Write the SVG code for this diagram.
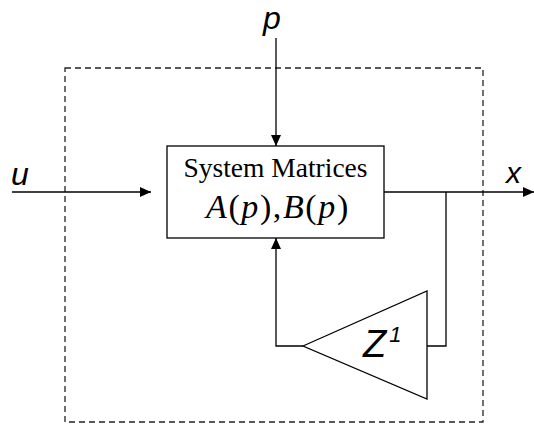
<svg xmlns="http://www.w3.org/2000/svg" width="534" height="427" viewBox="0 0 534 427">
<defs>
<marker id="ah" markerWidth="11" markerHeight="10" refX="11" refY="5" orient="auto" markerUnits="userSpaceOnUse">
<path d="M0,0 L11,5 L0,10 Z" fill="#000"/>
</marker>
<style>
.ln{fill:none;stroke:#000;stroke-width:1.3}
.lbl{font-family:"Liberation Sans",Arial,sans-serif;font-style:italic;fill:#000}
.ser{font-family:"Liberation Serif","Times New Roman",serif;fill:#000}
.it{font-style:italic}
</style>
</defs>
<rect width="534" height="427" fill="#fff"/>
<g id="boundary">
<rect x="65" y="68" width="418" height="354" fill="none" stroke="#222" stroke-width="1.3" stroke-dasharray="6,4"/>
</g>
<g id="connectors">
<line class="ln" x1="276" y1="38" x2="276" y2="146" marker-end="url(#ah)"/>
<line class="ln" x1="12" y1="192" x2="151" y2="192" marker-end="url(#ah)"/>
<line class="ln" x1="384" y1="192" x2="534" y2="192" marker-end="url(#ah)"/>
<polyline class="ln" points="446,192 446,346 427,346"/>
<polyline class="ln" points="303,346 276,346 276,238" marker-end="url(#ah)"/>
</g>
<g id="system">
<rect x="167" y="146" width="217" height="92" fill="#fff" stroke="#000" stroke-width="1.3"/>
<text class="ser" x="275.5" y="177" font-size="27.5" text-anchor="middle">System Matrices</text>
<text class="ser" x="206" y="218" font-size="34" letter-spacing="1.6"><tspan class="it">A</tspan>(<tspan class="it">p</tspan>),<tspan class="it">B</tspan>(<tspan class="it">p</tspan>)</text>
</g>
<g id="delay">
<polygon points="303,346 427,291 427,399" fill="#fff" stroke="#000" stroke-width="1.3"/>
<text class="lbl" x="363" y="357" font-size="38">Z<tspan font-size="22" dx="3" dy="-15">1</tspan></text>
</g>
<g id="labels">
<text class="lbl" x="11" y="185" font-size="32">u</text>
<text class="lbl" x="263" y="29" font-size="32">p</text>
<text class="lbl" x="506" y="183" font-size="30">x</text>
</g>
</svg>
